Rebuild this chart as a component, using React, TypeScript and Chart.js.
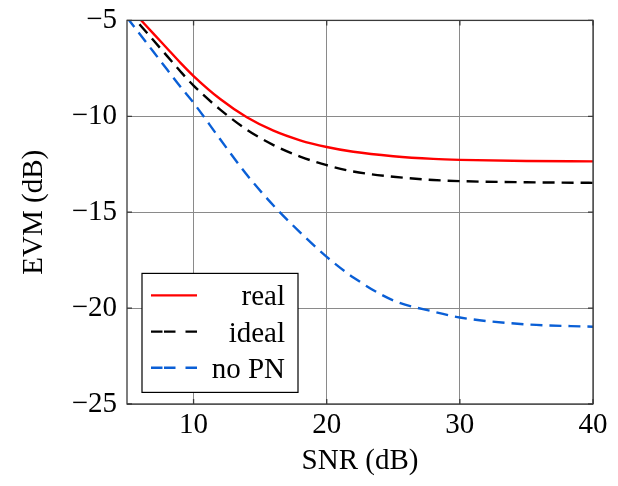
import React, { useEffect, useRef } from 'react';
import { Chart, registerables } from 'chart.js';

Chart.register(...registerables);

// SNR (dB) sample points
const snr = [5, 6, 7, 8, 9, 10, 12, 14, 16, 18, 20, 22, 25, 28, 30, 35, 40];
// EVM (dB) for each series
const evmReal = [-4.2, -4.95, -5.7, -6.45, -7.2, -7.9, -9.1, -10.05, -10.75, -11.25, -11.6, -11.85, -12.08, -12.22, -12.27, -12.33, -12.35];
const evmIdeal = [-4.45, -5.25, -6.05, -6.85, -7.65, -8.4, -9.65, -10.7, -11.5, -12.1, -12.55, -12.88, -13.15, -13.32, -13.38, -13.44, -13.47];
const evmNoPN = [-4.85, -5.75, -6.65, -7.55, -8.45, -9.3, -11.2, -13.05, -14.65, -16.05, -17.33, -18.4, -19.6, -20.18, -20.49, -20.85, -20.97];

const seriesLabels = ['real', 'ideal', 'no PN'];
const xTicks = [10, 20, 30, 40];
const yTicks = [-25, -20, -15, -10, -5];

const FONT = "'Liberation Serif', 'DejaVu Serif', serif";
const FS = 29;

const frameTicksPlugin = {
  id: 'frameTicks',
  afterDatasetsDraw(chart: any) {
    const { ctx, chartArea: a, scales } = chart;
    ctx.save();
    ctx.strokeStyle = '#3a3a3a';
    ctx.lineWidth = 1.3;
    ctx.setLineDash([]);
    ctx.strokeRect(a.left, a.top, a.right - a.left, a.bottom - a.top);
    const tl = 5;
    ctx.beginPath();
    xTicks.forEach((v) => {
      const px = scales.x.getPixelForValue(v);
      ctx.moveTo(px, a.bottom); ctx.lineTo(px, a.bottom - tl);
      ctx.moveTo(px, a.top); ctx.lineTo(px, a.top + tl);
    });
    yTicks.forEach((v) => {
      const py = scales.y.getPixelForValue(v);
      ctx.moveTo(a.left, py); ctx.lineTo(a.left + tl, py);
      ctx.moveTo(a.right, py); ctx.lineTo(a.right - tl, py);
    });
    ctx.stroke();
    ctx.restore();
  },
};

const legendPlugin = {
  id: 'insideLegend',
  afterDraw(chart: any) {
    const { ctx, chartArea: a } = chart;
    const x0 = a.left + 15;
    const y0 = a.top + 253;
    const w = 156;
    const h = 119;
    ctx.save();
    ctx.fillStyle = '#ffffff';
    ctx.fillRect(x0, y0, w, h);
    ctx.strokeStyle = '#000000';
    ctx.lineWidth = 1.2;
    ctx.setLineDash([]);
    ctx.strokeRect(x0, y0, w, h);
    chart.data.datasets.forEach((ds: any, i: number) => {
      const cy = y0 + 22 + i * 36.2;
      ctx.beginPath();
      ctx.setLineDash(ds.borderDash && ds.borderDash.length ? [11.5, 1.5, 11.5, 10] : []);
      ctx.strokeStyle = ds.borderColor;
      ctx.lineWidth = ds.borderWidth;
      ctx.moveTo(x0 + 9, cy);
      ctx.lineTo(x0 + 55, cy);
      ctx.stroke();
      ctx.setLineDash([]);
      ctx.fillStyle = '#000000';
      ctx.font = `${FS}px ${FONT}`;
      ctx.textAlign = 'right';
      ctx.textBaseline = 'alphabetic';
      ctx.fillText(ds.label, x0 + 143, cy + 10);
    });
    ctx.restore();
  },
};

export default function App() {
  const ref = useRef<HTMLCanvasElement>(null);
  useEffect(() => {
    if (!ref.current) return;
    const mk = (vals: number[]) => snr.map((x, i) => ({ x, y: vals[i] }));
    const chart = new Chart(ref.current, {
      type: 'line',
      data: {
        datasets: [
          { label: seriesLabels[0], data: mk(evmReal), borderColor: '#ff0000', borderWidth: 2.4, pointRadius: 0, cubicInterpolationMode: 'monotone', clip: 0 } as any,
          { label: seriesLabels[1], data: mk(evmIdeal), borderColor: '#000000', borderWidth: 2.4, borderDash: [12, 7], pointRadius: 0, cubicInterpolationMode: 'monotone', clip: 0 } as any,
          { label: seriesLabels[2], data: mk(evmNoPN), borderColor: '#0a5fd6', borderWidth: 2.4, borderDash: [12, 7], pointRadius: 0, cubicInterpolationMode: 'monotone', clip: 0 } as any,
        ],
      },
      options: {
        animation: false,
        responsive: false,
        layout: { padding: { left: 0, top: 13, right: 25, bottom: 0 } },
        plugins: { legend: { display: false }, tooltip: { enabled: false } },
        scales: {
          x: {
            type: 'linear',
            min: 5,
            max: 40,
            afterBuildTicks: (s: any) => { s.ticks = xTicks.map((v) => ({ value: v })); },
            afterFit: (s: any) => { s.height = 82; },
            grid: { color: '#8a8a8a', lineWidth: 1, drawTicks: false },
            border: { display: false },
            ticks: { color: '#000', font: { family: FONT, size: FS }, padding: 4, maxRotation: 0, autoSkip: false },
            title: { display: true, text: 'SNR (dB)', color: '#000', font: { family: FONT, size: FS }, padding: { top: 0, bottom: 7 } },
          },
          y: {
            type: 'linear',
            min: -25,
            max: -5,
            afterBuildTicks: (s: any) => { s.ticks = yTicks.map((v) => ({ value: v })); },
            afterFit: (s: any) => { s.width = 127; },
            grid: { color: '#8a8a8a', lineWidth: 1, drawTicks: false },
            border: { display: false },
            ticks: {
              color: '#000',
              font: { family: FONT, size: FS },
              padding: 10,
              autoSkip: false,
              callback: (v: any) => (v < 0 ? '\u2212' + Math.abs(v) : String(v)),
            },
            title: { display: true, text: 'EVM (dB)', color: '#000', font: { family: FONT, size: FS }, padding: { top: 17, bottom: 0 } },
          },
        },
      },
      plugins: [frameTicksPlugin, legendPlugin],
    });
    return () => chart.destroy();
  }, []);
  return (
    <div style={{ position: 'absolute', left: 0, top: -7, width: 618, height: 493, background: '#fff' }}>
      <canvas ref={ref} width={618} height={493} style={{ display: 'block' }} />
    </div>
  );
}
